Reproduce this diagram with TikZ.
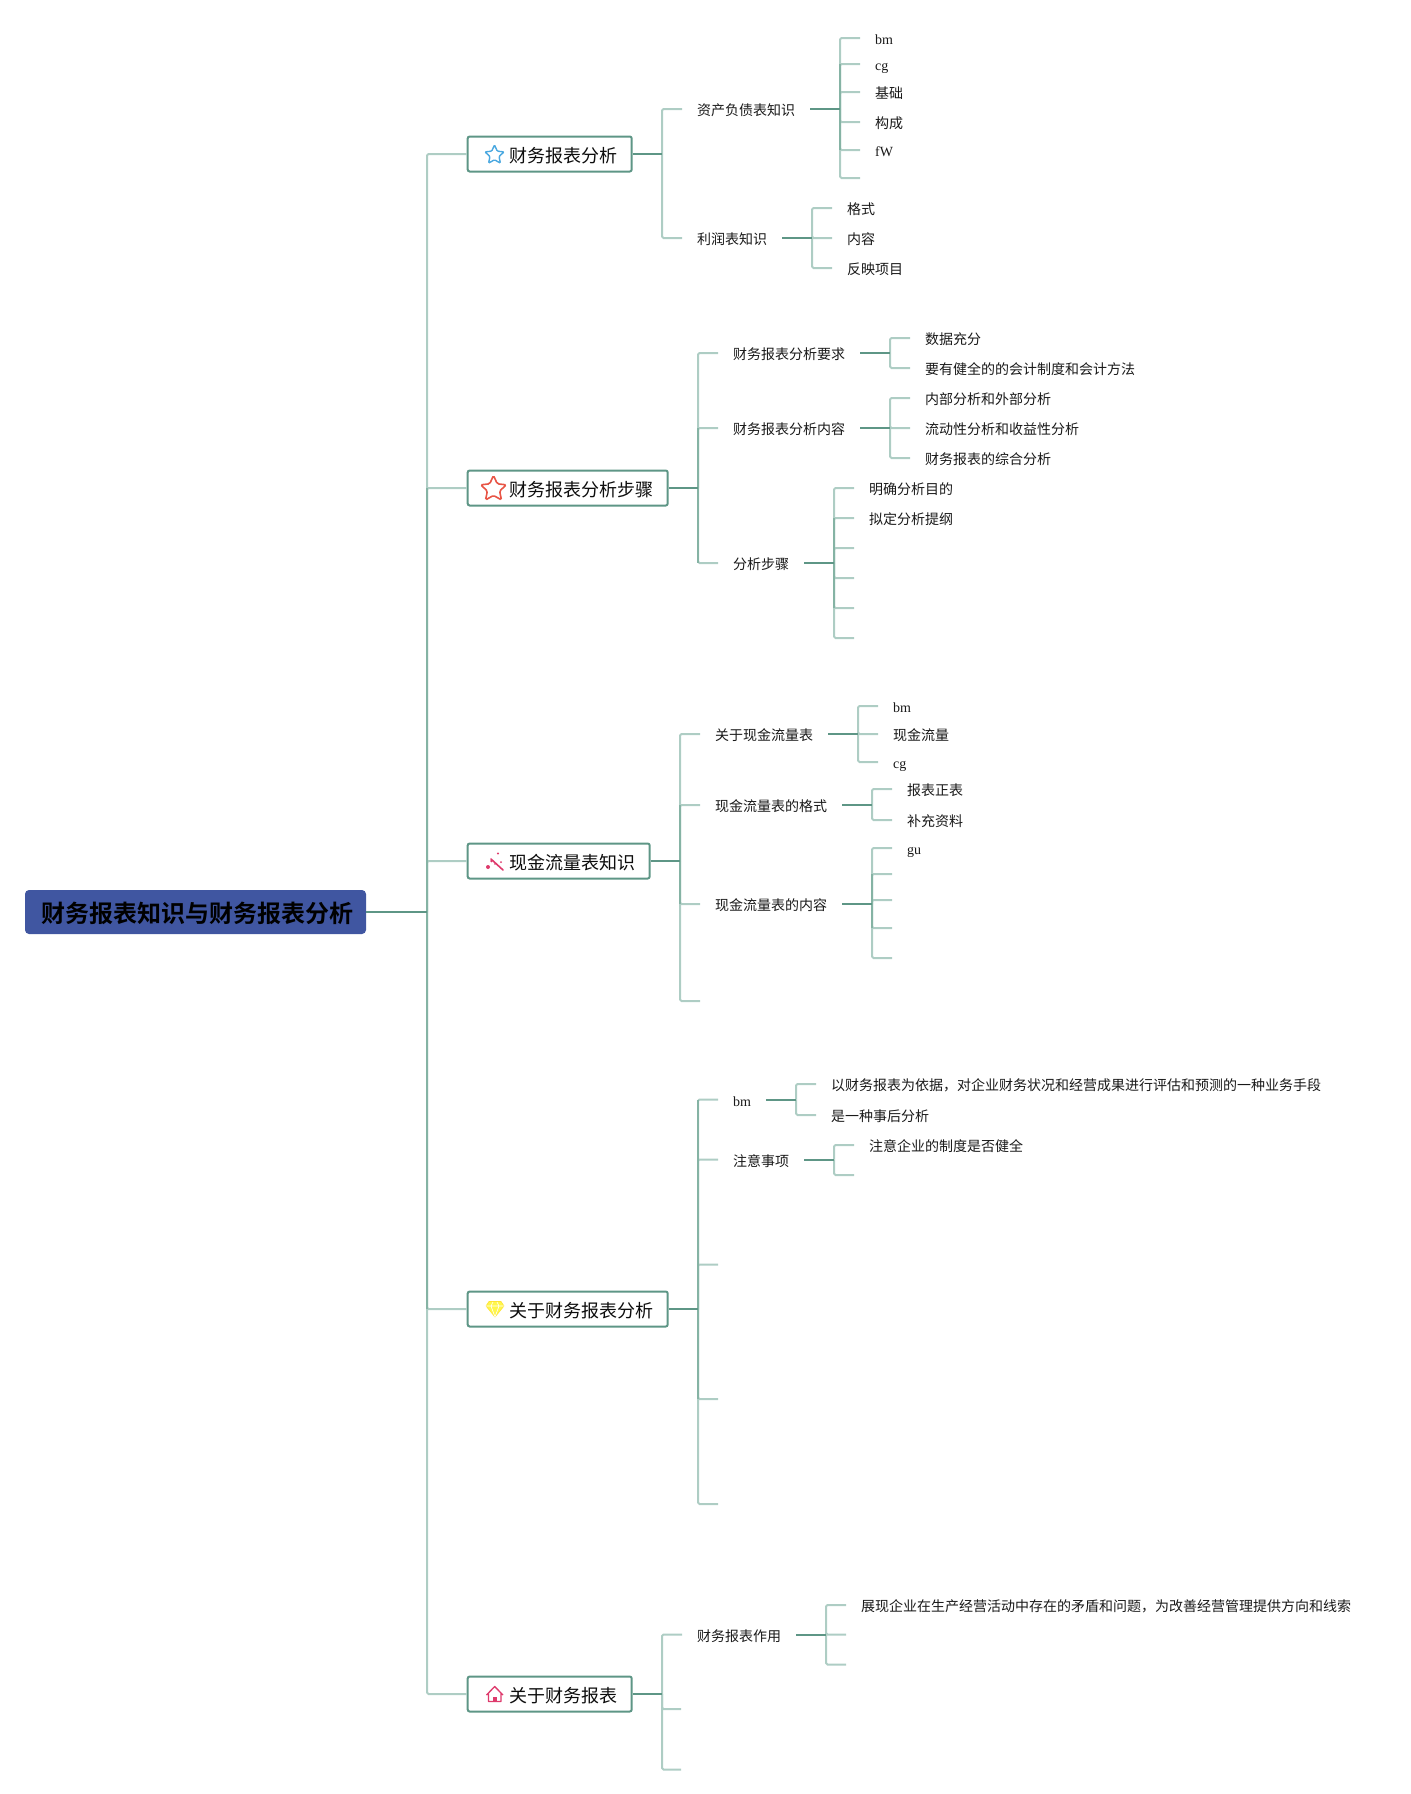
\documentclass[tikz,border=0pt]{standalone}
\usepackage{fontspec}
\setmainfont{Liberation Serif}
\newfontfamily\cjk{Noto Sans CJK SC}
\newfontfamily\cjkb{Noto Sans CJK SC Bold}
\usetikzlibrary{shapes.geometric}
\definecolor{dk}{HTML}{5E9686}
\definecolor{md}{HTML}{85B3A4}
\definecolor{lt}{HTML}{AECDC4}
\definecolor{pinkred}{HTML}{DE3A6C}
\definecolor{rootc}{HTML}{4056A1}
\tikzset{
  lab/.style={anchor=west,inner xsep=15pt,inner ysep=0pt,text height=14.8pt,text depth=1pt,font=\cjk\fontsize{14}{16}\selectfont,text=black!90},
  ltn/.style={lab,text height=14pt,font=\fontsize{14}{16}\selectfont},
  branch/.style={anchor=west,draw=dk,fill=white,line width=2pt,rounded corners=2pt,inner xsep=14.7pt,inner ysep=0pt,minimum height=35pt,text height=18pt,text depth=1pt,font=\cjk\fontsize{18}{20}\selectfont,text=black!95},
  rootbox/.style={fill=rootc,rounded corners=4pt,minimum width=341pt,minimum height=44pt,inner sep=0pt,text height=22pt,text depth=1pt,font=\cjkb\fontsize{24}{26}\selectfont,text=black},
  dkl/.style={draw=dk,line width=2pt},
  mdl/.style={draw=md,line width=2pt},
  ltl/.style={draw=lt,line width=2pt,rounded corners=1.5pt},
}
\newcommand{\Fan}[2]{\foreach \t in {#2}{\draw[ltl] (#1) |- (\t);}}
\newcommand{\Over}[3]{\draw[mdl] (#1 |- #2) -- (#1 |- #3);}
\newcommand{\Btext}[1]{\hspace*{26.6pt}#1}
\begin{document}
\begin{tikzpicture}[x=1pt,y=-1pt]
\useasboundingbox (0,0) rectangle (1411,1794);
% root and branches
\node[rootbox] (root) at (195.5,912) {\hspace*{3pt}财务报表知识与财务报表分析};
\node[branch] (b1) at (466.7,154) {\Btext{财务报表分析}};
\node[branch] (b2) at (466.7,488) {\Btext{财务报表分析步骤}};
\node[branch] (b3) at (466.7,861) {\Btext{现金流量表知识}};
\node[branch] (b4) at (466.7,1309) {\Btext{关于财务报表分析}};
\node[branch] (b5) at (466.7,1694) {\Btext{关于财务报表}};
% trunk
\coordinate (t) at (427,912);
\Fan{t}{b1.west,b2.west,b3.west,b4.west,b5.west}
\Over{t}{b2.west}{b4.west}
\draw[dkl] (root.east) -- (t);
% branch 1
\coordinate (j1) at (662,154);
\node[lab] (a1) at (682,109) {资产负债表知识};
\node[lab] (a2) at (682,238) {利润表知识};
\Fan{j1}{a1.west,a2.west}
\draw[dkl] (b1.east) -- (j1);
\coordinate (ja1) at (840,109);
\node[ltn] (a1a) at (860,38) {bm};
\node[ltn] (a1b) at (860,64) {cg};
\node[lab] (a1c) at (860,92) {基础};
\node[lab] (a1d) at (860,122) {构成};
\node[ltn] (a1e) at (860,150) {fW};
\coordinate (a1f) at (860,178);
\Fan{ja1}{a1a.west,a1b.west,a1c.west,a1d.west,a1e.west,a1f}
\Over{ja1}{a1b.west}{a1e.west}
\draw[dkl] (a1.east) -- (ja1);
\coordinate (ja2) at (812,238);
\node[lab] (a2a) at (832,208) {格式};
\node[lab] (a2b) at (832,238) {内容};
\node[lab] (a2c) at (832,268) {反映项目};
\Fan{ja2}{a2a.west,a2b.west,a2c.west}
\draw[dkl] (a2.east) -- (ja2);
% branch 2
\coordinate (j2) at (698,488);
\node[lab] (c1) at (718,353) {财务报表分析要求};
\node[lab] (c2) at (718,428) {财务报表分析内容};
\node[lab] (c3) at (718,563) {分析步骤};
\Fan{j2}{c1.west,c2.west,c3.west}
\Over{j2}{c2.west}{c3.west}
\draw[dkl] (b2.east) -- (j2);
\coordinate (jc1) at (890,353);
\node[lab] (c1a) at (910,338) {数据充分};
\node[lab] (c1b) at (910,368) {要有健全的的会计制度和会计方法};
\Fan{jc1}{c1a.west,c1b.west}
\draw[dkl] (c1.east) -- (jc1);
\coordinate (jc2) at (890,428);
\node[lab] (c2a) at (910,398) {内部分析和外部分析};
\node[lab] (c2b) at (910,428) {流动性分析和收益性分析};
\node[lab] (c2c) at (910,458) {财务报表的综合分析};
\Fan{jc2}{c2a.west,c2b.west,c2c.west}
\draw[dkl] (c2.east) -- (jc2);
\coordinate (jc3) at (834,563);
\node[lab] (c3a) at (854,488) {明确分析目的};
\node[lab] (c3b) at (854,518) {拟定分析提纲};
\coordinate (c3c) at (854,548);
\coordinate (c3d) at (854,578);
\coordinate (c3e) at (854,608);
\coordinate (c3f) at (854,638);
\Fan{jc3}{c3a.west,c3b.west,c3c,c3d,c3e,c3f}
\Over{jc3}{c3b.west}{c3e}
\draw[dkl] (c3.east) -- (jc3);
% branch 3
\coordinate (j3) at (680,861);
\node[lab] (d1) at (700,734) {关于现金流量表};
\node[lab] (d2) at (700,805) {现金流量表的格式};
\node[lab] (d3) at (700,904) {现金流量表的内容};
\coordinate (d4) at (700,1001);
\Fan{j3}{d1.west,d2.west,d3.west,d4}
\Over{j3}{d2.west}{d3.west}
\draw[dkl] (b3.east) -- (j3);
\coordinate (jd1) at (858,734);
\node[ltn] (d1a) at (878,706) {bm};
\node[lab] (d1b) at (878,734) {现金流量};
\node[ltn] (d1c) at (878,762) {cg};
\Fan{jd1}{d1a.west,d1b.west,d1c.west}
\draw[dkl] (d1.east) -- (jd1);
\coordinate (jd2) at (872,805);
\node[lab] (d2a) at (892,789) {报表正表};
\node[lab] (d2b) at (892,820) {补充资料};
\Fan{jd2}{d2a.west,d2b.west}
\draw[dkl] (d2.east) -- (jd2);
\coordinate (jd3) at (872,904);
\node[ltn] (d3a) at (892,848) {gu};
\coordinate (d3b) at (892,874);
\coordinate (d3c) at (892,900);
\coordinate (d3d) at (892,928);
\coordinate (d3e) at (892,958);
\Fan{jd3}{d3a.west,d3b,d3c,d3d,d3e}
\Over{jd3}{d3b}{d3d}
\draw[dkl] (d3.east) -- (jd3);
% branch 4
\coordinate (j4) at (698,1309);
\node[ltn] (e1) at (718,1099.5) {bm};
\node[lab] (e2) at (718,1159.5) {注意事项};
\coordinate (e3) at (718,1264.5);
\coordinate (e4) at (718,1399);
\coordinate (e5) at (718,1504);
\Fan{j4}{e1.west,e2.west,e3,e4,e5}
\Over{j4}{e1.west}{e4}
\draw[dkl] (b4.east) -- (j4);
\coordinate (je1) at (796,1099.5);
\node[lab] (e1a) at (816,1084) {以财务报表为依据，对企业财务状况和经营成果进行评估和预测的一种业务手段};
\node[lab] (e1b) at (816,1115) {是一种事后分析};
\Fan{je1}{e1a.west,e1b.west}
\draw[dkl] (e1.east) -- (je1);
\coordinate (je2) at (834,1159.5);
\node[lab] (e2a) at (854,1145) {注意企业的制度是否健全};
\coordinate (e2b) at (854,1175);
\Fan{je2}{e2a.west,e2b}
\draw[dkl] (e2.east) -- (je2);
% branch 5
\coordinate (j5) at (662,1694);
\node[lab] (f1) at (682,1634.5) {财务报表作用};
\coordinate (f2) at (681,1709);
\coordinate (f3) at (681,1769.5);
\Fan{j5}{f1.west,f2,f3}
\draw[dkl] (b5.east) -- (j5);
\coordinate (jf1) at (826,1634.5);
\node[lab] (f1a) at (846,1605) {展现企业在生产经营活动中存在的矛盾和问题，为改善经营管理提供方向和线索};
\coordinate (f1b) at (846,1634.5);
\coordinate (f1c) at (846,1664.5);
\Fan{jf1}{f1a.west,f1b,f1c}
\draw[dkl] (f1.east) -- (jf1);
% icons
\node[star,star points=5,star point ratio=2.1,draw={rgb,255:red,74;green,168;blue,224},line width=1.4pt,rounded corners=1pt,minimum size=20pt,inner sep=0pt] (ic1) at (494.5,155) {};
\node[star,star points=5,star point ratio=2.1,draw={rgb,255:red,232;green,85;blue,70},line width=1.6pt,rounded corners=1.5pt,minimum size=27pt,inner sep=0pt] (ic2) at (493.5,489) {};
\draw[pinkred,line width=1.6pt,line cap=round] (491,859) -- (503,870);
\fill[pinkred] (488,867) circle (2pt) (498,853.5) circle (1.2pt) (491.5,861) circle (1.3pt) (501,862) circle (1pt) (495,864) circle (0.8pt);
\fill[yellow!70!white,draw=yellow!80!orange!80!white,line width=0.6pt,line join=round] (489,1301.5) -- (501,1301.5) -- (504,1306) -- (495,1317) -- (486,1306) -- cycle;
\draw[white,line width=0.6pt] (486,1306) -- (504,1306) (491,1306) -- (495,1317) -- (499,1306) (491,1306) -- (493,1302) (499,1306) -- (497,1302);
\draw[pinkred,line width=1.3pt,line join=round] (486.5,1695) -- (494.7,1686.5) -- (503,1695) (488.5,1693.5) -- (488.5,1701.5) -- (501,1701.5) -- (501,1693.5);
\fill[pinkred] (493,1696.5) rectangle (497,1701.5);
\end{tikzpicture}
\end{document}
